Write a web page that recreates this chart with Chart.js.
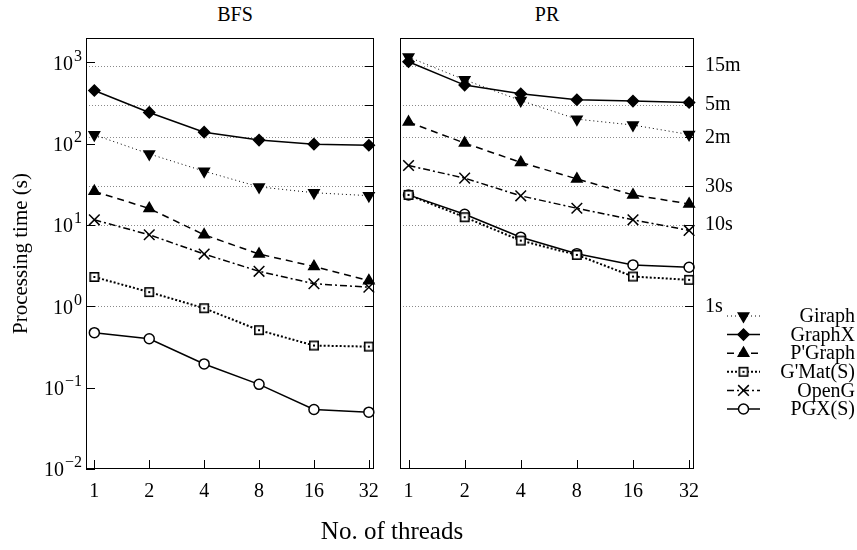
<!DOCTYPE html>
<html>
<head>
<meta charset="utf-8">
<script src="https://cdn.jsdelivr.net/npm/chart.js@4.4.0/dist/chart.umd.min.js"></script>
<style>
  body { margin: 0; background: #fff; width: 857px; height: 550px; overflow: hidden; position: relative;
         font-family: "Liberation Serif", serif; color: #000; }
  canvas { position: absolute; top: 0; }
  #bfs { left: 0; }
  #pr { left: 390px; }
  .txt { position: absolute; text-align: center; white-space: nowrap; }
</style>
</head>
<body>
<div class="txt" style="left:185px;width:100px;top:3px;font-size:20px;">BFS</div>
<div class="txt" style="left:497px;width:100px;top:3px;font-size:20px;">PR</div>
<canvas id="bfs" width="390" height="550"></canvas>
<canvas id="pr" width="467" height="550"></canvas>
<div class="txt" style="left:292px;width:200px;top:517px;font-size:25px;">No. of threads</div>
<script>
// thread counts on the x axis
const threads = [1, 2, 4, 8, 16, 32];
const seriesNames = ['Giraph', 'GraphX', "P'Graph", "G'Mat(S)", 'OpenG', 'PGX(S)'];

// BFS processing time (s)
const bfsGiraph = [129, 75, 46, 29.5, 25, 23];
const bfsGraphX = [452, 243, 139, 111, 99, 96];
const bfsPGraph = [26, 16, 7.6, 4.4, 3.1, 2.07];
const bfsGMat   = [2.3, 1.5, 0.95, 0.51, 0.33, 0.32];
const bfsOpenG  = [11.6, 7.6, 4.4, 2.7, 1.9, 1.72];
const bfsPGX    = [0.475, 0.4, 0.196, 0.11, 0.054, 0.05];

// PR processing time (s)
const prGiraph = [1165, 612, 340, 201, 170, 130];
const prGraphX = [1020, 527, 412, 348, 335, 322];
const prPGraph = [185, 102, 59, 37, 23.5, 18.2];
const prGMat   = [23.5, 12.5, 6.45, 4.3, 2.33, 2.12];
const prOpenG  = [54, 37.8, 22.9, 16.1, 11.6, 8.6];
const prPGX    = [23.5, 13.6, 7.1, 4.45, 3.24, 3.03];

// axis ticks
const decadeTicks = [0.01, 0.1, 1, 10, 100, 1000];
const timeTicks = [1, 10, 30, 120, 300, 900];
const timeLabels = ['1s', '10s', '30s', '2m', '5m', '15m'];

Chart.defaults.font.family = '"Liberation Serif", serif';
Chart.defaults.color = '#000';

// hollow square with a dot, like gnuplot's point type
function squareDot() {
    const c = document.createElement('canvas');
    c.width = 12; c.height = 12;
    const g = c.getContext('2d');
    g.fillStyle = '#fff';
    g.fillRect(1, 1, 10, 10);
    g.strokeStyle = '#000';
    g.lineWidth = 1.6;
    g.strokeRect(1.8, 1.8, 8.4, 8.4);
    g.fillStyle = '#000';
    g.fillRect(5, 5, 2, 2);
    return c;
}
const sqImg = squareDot();

const styles = [
    { borderWidth: 1,   borderDash: [1, 3],       pointStyle: 'triangle', pointRotation: 180, pointRadius: 6, fill: '#000' },
    { borderWidth: 1.5, borderDash: [],           pointStyle: 'rectRot',  pointRotation: 0,   pointRadius: 5.5, fill: '#000' },
    { borderWidth: 1.5, borderDash: [7, 5],       pointStyle: 'triangle', pointRotation: 0,   pointRadius: 6, fill: '#000' },
    { borderWidth: 2,   borderDash: [2, 2],       pointStyle: sqImg,      pointRotation: 0,   pointRadius: 6, fill: '#fff' },
    { borderWidth: 1.5, borderDash: [7, 3, 2, 3], pointStyle: 'crossRot', pointRotation: 0,   pointRadius: 7.5, fill: '#000' },
    { borderWidth: 1.5, borderDash: [],           pointStyle: 'circle',   pointRotation: 0,   pointRadius: 5, fill: '#fff' }
];

function buildDatasets(list) {
    return list.map((vals, i) => {
        const s = styles[i];
        return {
            label: seriesNames[i],
            data: threads.map((t, k) => ({ x: t, y: vals[k] })),
            borderColor: '#000',
            backgroundColor: s.fill,
            borderWidth: s.borderWidth,
            borderDash: s.borderDash,
            pointStyle: s.pointStyle,
            pointRotation: s.pointRotation,
            pointRadius: s.pointRadius,
            pointBorderWidth: 1.5,
            pointBackgroundColor: s.fill,
            pointBorderColor: '#000',
            tension: 0,
            clip: false
        };
    });
}

// grid, frame, inside ticks, decade labels and legend
const framePlugin = {
    id: 'frame',
    beforeDatasetsDraw(chart) {
        const { ctx, chartArea: a, scales: { y } } = chart;
        ctx.save();
        ctx.strokeStyle = '#8a8a8a';
        ctx.lineWidth = 1;
        ctx.setLineDash([1, 2]);
        timeTicks.forEach(v => {
            const py = Math.round(y.getPixelForValue(v)) + 0.5;
            ctx.beginPath();
            ctx.moveTo(a.left, py);
            ctx.lineTo(a.right, py);
            ctx.stroke();
        });
        ctx.restore();
    },
    afterDraw(chart, args, opts) {
        const { ctx, chartArea: a, scales: { x, y } } = chart;
        ctx.save();
        ctx.strokeStyle = '#000';
        ctx.lineWidth = 1;
        ctx.setLineDash([]);
        ctx.strokeRect(Math.round(a.left) + 0.5, Math.round(a.top) + 0.5,
                       Math.round(a.right - a.left) - 1, Math.round(a.bottom - a.top) - 1);
        ctx.beginPath();
        threads.forEach(t => {
            const px = Math.round(x.getPixelForValue(t)) + 0.5;
            ctx.moveTo(px, a.bottom);
            ctx.lineTo(px, a.bottom - 9);
        });
        timeTicks.forEach(v => {
            const py = Math.round(y.getPixelForValue(v)) + 0.5;
            ctx.moveTo(a.right, py);
            ctx.lineTo(a.right - 9, py);
        });
        if (opts.decades) {
            decadeTicks.forEach(v => {
                const py = Math.round(y.getPixelForValue(v)) + 0.5;
                ctx.moveTo(a.left, py);
                ctx.lineTo(a.left + 9, py);
            });
        }
        ctx.stroke();

        if (opts.decades) {
            ctx.fillStyle = '#000';
            ctx.textBaseline = 'middle';
            ctx.textAlign = 'right';
            decadeTicks.forEach(v => {
                const py = y.getPixelForValue(v);
                const e = String(Math.round(Math.log10(v))).replace('-', '\u2212');
                ctx.font = '16px "Liberation Serif"';
                const ew = ctx.measureText(e).width;
                ctx.fillText(e, a.left - 4, py - 6);
                ctx.font = '20px "Liberation Serif"';
                ctx.fillText('10', a.left - 5 - ew, py + 2);
            });
        }

        if (opts.legend) {
            const L = opts.legend;
            chart.data.datasets.forEach((ds, i) => {
                const ly = L.top + i * L.step;
                ctx.strokeStyle = '#000';
                ctx.lineWidth = ds.borderWidth;
                ctx.setLineDash(ds.borderDash);
                ctx.beginPath();
                ctx.moveTo(L.x0, ly);
                ctx.lineTo(L.x1, ly);
                ctx.stroke();
                ctx.setLineDash([]);
                ctx.lineWidth = ds.pointBorderWidth;
                ctx.fillStyle = ds.pointBackgroundColor;
                Chart.helpers.drawPoint(ctx, {
                    pointStyle: ds.pointStyle, rotation: ds.pointRotation,
                    radius: ds.pointRadius, borderWidth: ds.pointBorderWidth
                }, (L.x0 + L.x1) / 2, ly);
                ctx.fillStyle = '#000';
                ctx.font = '20px "Liberation Serif"';
                ctx.textAlign = 'right';
                ctx.textBaseline = 'middle';
                ctx.fillText(ds.label, L.textRight, ly + 1);
            });
        }
        ctx.restore();
    }
};

function xScale() {
    return {
        type: 'logarithmic',
        min: 0.9,
        max: 34,
        afterBuildTicks: s => { s.ticks = threads.map(v => ({ value: v })); },
        ticks: { callback: v => String(v), font: { size: 20 }, color: '#000', padding: 11,
                 autoSkip: false, maxRotation: 0 },
        grid: { display: false, drawTicks: false },
        border: { display: false },
        afterFit: s => { s.height = 81; }
    };
}

new Chart(document.getElementById('bfs'), {
    type: 'line',
    data: { datasets: buildDatasets([bfsGiraph, bfsGraphX, bfsPGraph, bfsGMat, bfsOpenG, bfsPGX]) },
    options: {
        responsive: false,
        animation: false,
        layout: { padding: { left: 0, right: 7, top: 38, bottom: 0 } },
        plugins: { legend: { display: false }, tooltip: { enabled: false }, frame: { decades: true } },
        scales: {
            x: xScale(),
            y: {
                type: 'logarithmic',
                min: 0.01,
                max: 2000,
                afterBuildTicks: s => { s.ticks = decadeTicks.map(v => ({ value: v })); },
                ticks: { display: false },
                grid: { display: false, drawTicks: false },
                border: { display: false },
                title: { display: true, text: 'Processing time (s)', font: { size: 21 }, color: '#000',
                         padding: { top: 9, bottom: 0 } },
                afterFit: s => { s.width = 86; }
            }
        }
    },
    plugins: [framePlugin]
});

new Chart(document.getElementById('pr'), {
    type: 'line',
    data: { datasets: buildDatasets([prGiraph, prGraphX, prPGraph, prGMat, prOpenG, prPGX]) },
    options: {
        responsive: false,
        animation: false,
        layout: { padding: { left: 10, right: 0, top: 38, bottom: 0 } },
        plugins: {
            legend: { display: false }, tooltip: { enabled: false },
            frame: { decades: false, legend: { top: 316, step: 18.6, x0: 337, x1: 370, textRight: 465 } }
        },
        scales: {
            x: xScale(),
            y: {
                type: 'logarithmic',
                position: 'right',
                min: 0.01,
                max: 2000,
                afterBuildTicks: s => { s.ticks = timeTicks.map(v => ({ value: v })); },
                ticks: { callback: v => timeLabels[timeTicks.indexOf(v)], font: { size: 20 }, color: '#000',
                         padding: 11 },
                grid: { display: false, drawTicks: false },
                border: { display: false },
                afterFit: s => { s.width = 163; }
            }
        }
    },
    plugins: [framePlugin]
});
</script>
</body>
</html>
